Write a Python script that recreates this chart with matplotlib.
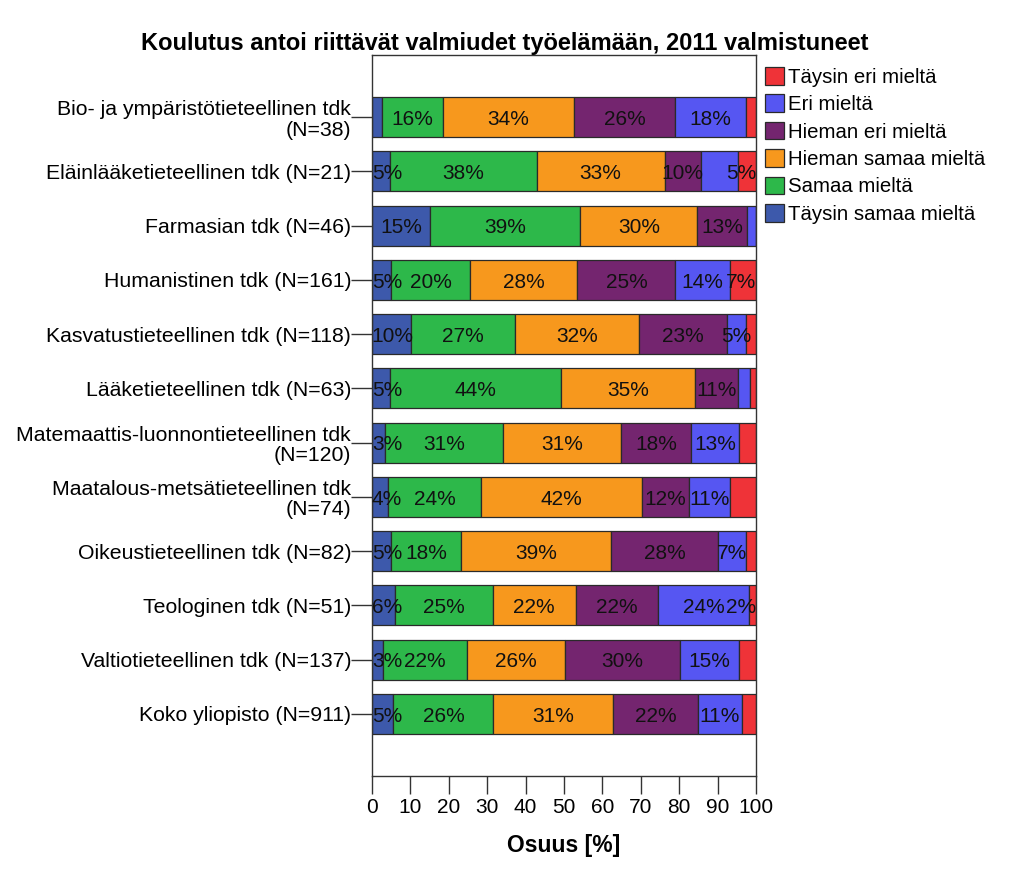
import matplotlib
matplotlib.use('Agg')
import matplotlib.pyplot as plt
import numpy as np

plt.rcParams['font.family'] = ['Liberation Sans', 'DejaVu Sans']

# faculties, top to bottom
categories = ['Bio- ja ympäristötieteellinen tdk\n(N=38)',
              'Eläinlääketieteellinen tdk (N=21)',
              'Farmasian tdk (N=46)',
              'Humanistinen tdk (N=161)',
              'Kasvatustieteellinen tdk (N=118)',
              'Lääketieteellinen tdk (N=63)',
              'Matemaattis-luonnontieteellinen tdk\n(N=120)',
              'Maatalous-metsätieteellinen tdk\n(N=74)',
              'Oikeustieteellinen tdk (N=82)',
              'Teologinen tdk (N=51)',
              'Valtiotieteellinen tdk (N=137)',
              'Koko yliopisto (N=911)']

# shares in percent, one list per answer
taysin_samaa = [2.6, 4.8, 15.2, 5.0, 10.2, 4.8, 3.3, 4.1, 4.9, 5.9, 2.9, 5.6]
samaa = [15.8, 38.1, 39.1, 20.5, 27.1, 44.4, 30.8, 24.3, 18.3, 25.5, 21.9, 26.0]
hieman_samaa = [34.2, 33.3, 30.4, 28.0, 32.2, 34.9, 30.8, 41.9, 39.0, 21.6, 25.5, 31.2]
hieman_eri = [26.3, 9.5, 13.0, 25.5, 22.9, 11.1, 18.3, 12.2, 28.0, 21.6, 29.9, 22.0]
eri = [18.4, 9.5, 2.2, 14.3, 5.1, 3.2, 12.5, 10.8, 7.3, 23.5, 15.3, 11.5]
taysin_eri = [2.6, 4.8, 0.0, 6.8, 2.5, 1.6, 4.2, 6.8, 2.4, 2.0, 4.4, 3.7]

# segment labels as printed in the chart ('' = not shown)
lab_taysin_samaa = ['', '5%', '15%', '5%', '10%', '5%', '3%', '4%', '5%', '6%', '3%', '5%']
lab_samaa = ['16%', '38%', '39%', '20%', '27%', '44%', '31%', '24%', '18%', '25%', '22%', '26%']
lab_hieman_samaa = ['34%', '33%', '30%', '28%', '32%', '35%', '31%', '42%', '39%', '22%', '26%', '31%']
lab_hieman_eri = ['26%', '10%', '13%', '25%', '23%', '11%', '18%', '12%', '28%', '22%', '30%', '22%']
lab_eri = ['18%', '', '', '14%', '5%', '', '13%', '11%', '7%', '24%', '15%', '11%']
lab_taysin_eri = ['', '5%', '', '7%', '', '', '', '', '', '2%', '', '']

series = ['Täysin samaa mieltä', 'Samaa mieltä', 'Hieman samaa mieltä',
          'Hieman eri mieltä', 'Eri mieltä', 'Täysin eri mieltä']
colors = ['#3d59ab', '#2db84a', '#f7981d', '#74256f', '#5656f2', '#ef3338']

values = [taysin_samaa, samaa, hieman_samaa, hieman_eri, eri, taysin_eri]
labels = [lab_taysin_samaa, lab_samaa, lab_hieman_samaa, lab_hieman_eri, lab_eri, lab_taysin_eri]

fig = plt.figure(figsize=(10.1, 8.73), dpi=100)
ax = fig.add_axes([0.3683, 0.1111, 0.3802, 0.8259])

y = np.arange(len(categories))
left = np.zeros(len(categories))
for name, vals, col, labs in zip(series, values, colors, labels):
    vals = np.array(vals)
    ax.barh(y, vals, left=left, height=0.74, color=col, edgecolor='#2a2a2a',
            linewidth=0.9, label=name)
    for yi, l, v, t in zip(y, left, vals, labs):
        if not t:
            continue
        # keep label inside the plot area, roughly like the original
        half = (11 * (len(t) - 1) + 19) / 2 / 3.84
        xc = min(max(l + v / 2, half), 100 - half)
        ax.text(xc, yi + 0.04, t, ha='center', va='center', fontsize=15, color='#111111')
    left += vals

ax.set_xlim(0, 100)
ax.set_ylim(len(categories) - 1 + 1.144, -1.144)
ax.set_xticks(np.arange(0, 101, 10))
ax.set_yticks(y)
ax.set_yticklabels(categories, fontsize=15.3, ha='right', linespacing=1.1)
ax.tick_params(axis='x', labelsize=15, length=13, width=1, color='#333333', pad=3)
ax.tick_params(axis='y', length=15, width=1, color='#333333', pad=0)
for s in ax.spines.values():
    s.set_color('#333333')
    s.set_linewidth(1)

ax.set_xlabel('Osuus [%]', fontsize=16.5, fontweight='bold', labelpad=12)
fig.suptitle('Koulutus antoi riittävät valmiudet työelämään, 2011 valmistuneet',
             x=0.5, y=0.963, fontsize=17, fontweight='bold')

h, l = ax.get_legend_handles_labels()
ax.legend(h[::-1], l[::-1], loc='upper left', bbox_to_anchor=(1.0, 0.996),
          frameon=False, fontsize=14.7, handlelength=0.9, handleheight=0.95,
          handletextpad=0.2, labelspacing=0.37, borderaxespad=0.2,
          borderpad=0.25)

fig.savefig('out.png', dpi=100)
